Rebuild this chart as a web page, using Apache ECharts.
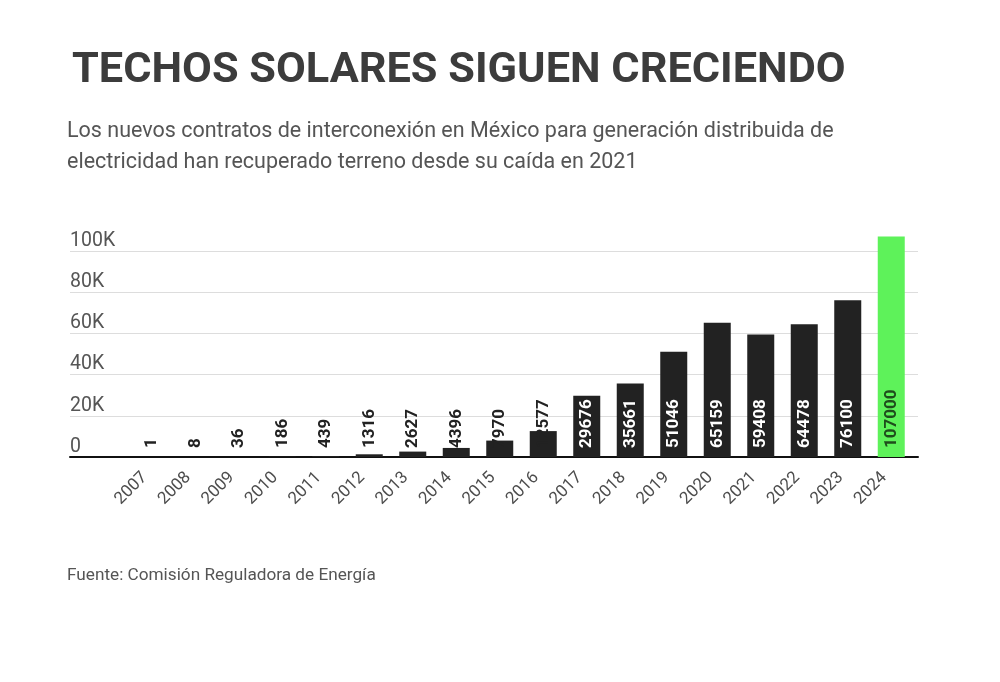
<!DOCTYPE html>
<html>
<head>
<meta charset="utf-8">
<script src="https://cdn.jsdelivr.net/npm/echarts@6/dist/echarts.min.js"></script>
<style>html,body{margin:0;padding:0;background:#fff}#c{width:1000px;height:682px}</style>
</head>
<body>
<div id="c"></div>
<script>
const years = ['2007','2008','2009','2010','2011','2012','2013','2014','2015','2016','2017','2018','2019','2020','2021','2022','2023','2024'];
const contracts = [1, 8, 36, 186, 439, 1316, 2627, 4396, 7970, 12577, 29676, 35661, 51046, 65159, 59408, 64478, 76100, 107000];
const yTicks = [0, 20000, 40000, 60000, 80000, 100000];
const highlightYear = '2024';

const titleText = 'TECHOS SOLARES SIGUEN CRECIENDO';
const subtitleText = 'Los nuevos contratos de interconexión en México para generación distribuida de\nelectricidad han recuperado terreno desde su caída en 2021';
const sourceText = 'Fuente: Comisión Reguladora de Energía';

const FONT = 'Roboto, "Noto Sans", sans-serif';
const DARK = '#222222';
const GREEN = '#5ef25a';

const barData = contracts.map((v, i) => {
  const hi = years[i] === highlightYear;
  return {
    value: v,
    itemStyle: { color: hi ? GREEN : DARK },
    label: { color: hi ? '#1f4d1c' : (v >= 20000 ? '#ffffff' : '#222222') }
  };
});

const chart = echarts.init(document.getElementById('c'), null, { renderer: 'canvas' });
const gridTop = 251, gridBottom = 225;
chart.setOption({
  backgroundColor: '#ffffff',
  animation: false,
  title: [
    { text: titleText, left: 67, top: 45,
      textStyle: { fontFamily: FONT, fontSize: 43.3, fontWeight: 'bold', color: '#3c3c3c' } },
    { text: subtitleText, left: 62, top: 111,
      textStyle: { fontFamily: FONT, fontSize: 21.5, fontWeight: 'normal', color: '#555555', lineHeight: 31 } },
    { text: sourceText, left: 62, top: 562,
      textStyle: { fontFamily: FONT, fontSize: 17.2, fontWeight: 'normal', color: '#555555' } }
  ],
  grid: [
    { left: 70, right: 82, top: gridTop, bottom: gridBottom },
    { left: 130, right: 87, top: gridTop, bottom: gridBottom }
  ],
  xAxis: [
    { gridIndex: 0, type: 'value', min: 0, max: 1,
      axisLine: { show: true, onZero: false, lineStyle: { color: '#111111', width: 2 } },
      axisTick: { show: false }, axisLabel: { show: false }, splitLine: { show: false } },
    { gridIndex: 1, type: 'category', data: years,
      axisLine: { show: false }, axisTick: { show: false },
      axisLabel: { rotate: 45, margin: 11, padding: [0, 10, 0, 0], color: '#4d4d4d', fontFamily: FONT, fontSize: 17, interval: 0 } }
  ],
  yAxis: [
    { gridIndex: 0, type: 'value', min: yTicks[0], max: yTicks[yTicks.length - 1], interval: yTicks[1] - yTicks[0],
      axisLine: { show: false }, axisTick: { show: false },
      splitLine: { lineStyle: { color: '#dddddd', width: 1 } },
      axisLabel: { inside: true, margin: 0, align: 'left', verticalAlign: 'bottom', padding: [0, 0, 0, 0],
        color: '#555555', fontFamily: FONT, fontSize: 19.5,
        formatter: v => v === 0 ? '0' : (v / 1000) + 'K' } },
    { gridIndex: 1, type: 'value', min: yTicks[0], max: yTicks[yTicks.length - 1],
      show: false, splitLine: { show: false } }
  ],
  series: [{
    type: 'bar', xAxisIndex: 1, yAxisIndex: 1, data: barData, barWidth: 27, clip: false,
    label: { show: true, position: 'insideBottom', rotate: 90, align: 'left', verticalAlign: 'middle', distance: 9,
      fontFamily: FONT, fontSize: 17, fontWeight: 'bold' }
  }]
});
</script>
</body>
</html>
